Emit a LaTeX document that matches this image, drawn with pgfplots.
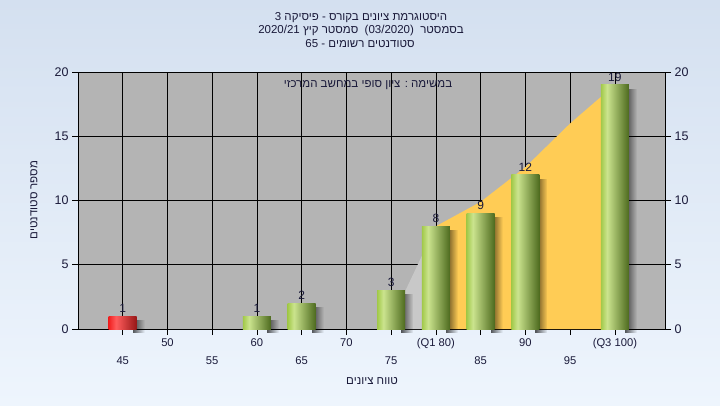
\documentclass[border=0pt]{standalone}
\usepackage{fontspec}
\setmainfont{Liberation Sans}
\newfontfamily\hebfont[Script=Hebrew]{Liberation Sans}
\usepackage{pgfplots}
\pgfplotsset{compat=1.18}
\usetikzlibrary{fadings}
\TeXXeTstate=1
\definecolor{bgtop}{HTML}{D4E0F0}
\definecolor{bgbot}{HTML}{EEF5FD}
\definecolor{plotbg}{HTML}{B4B4B4}
\definecolor{orng}{HTML}{FFCC55}
\definecolor{lgray}{HTML}{C8C8C8}
\definecolor{g1}{HTML}{A2C94A}
\definecolor{g2}{HTML}{CBE48E}
\definecolor{g3}{HTML}{4D6A1E}
\definecolor{r1}{HTML}{F02020}
\definecolor{r2}{HTML}{FF5C5C}
\definecolor{r3}{HTML}{961616}
\definecolor{lbl}{HTML}{1A1A3A}
\pgfdeclarehorizontalshading{greenbar}{100bp}{color(0bp)=(g1); color(25bp)=(g1); color(36bp)=(g2); color(75bp)=(g3); color(100bp)=(g3)}
\pgfdeclarehorizontalshading{redbar}{100bp}{color(0bp)=(r1); color(25bp)=(r1); color(38bp)=(r2); color(75bp)=(r3); color(100bp)=(r3)}
\pgfplotsset{
  gbar/.style={ybar, bar width=28pt, bar shift=0pt, shading=greenbar, draw=none,
    nodes near coords, every node near coord/.append style={font=\fontsize{12}{14}\selectfont, text=lbl}},
  rbar/.style={ybar, bar width=28pt, bar shift=0pt, shading=redbar, draw=none,
    nodes near coords, every node near coord/.append style={font=\fontsize{12}{14}\selectfont, text=lbl}},
  sbar/.style={ybar, bar width=12pt, bar shift=16pt, yshift=-4pt, fill=black, fill opacity=0.65, draw=none, path fading=east},
}
\begin{document}
\begin{tikzpicture}[x=1pt,y=1pt]
\shade[top color=bgtop, bottom color=bgbot] (0,0) rectangle (720,-405);
\useasboundingbox (0,0) rectangle (720,-405);
\node[font=\hebfont\fontsize{11.5}{13}\selectfont, text=lbl] at (361,-18) {\beginR היסטוגרמת ציונים בקורס - פיסיקה 3\endR};
\node[font=\hebfont\fontsize{11.5}{13}\selectfont, text=lbl] at (361,-31) {\beginR בסמסטר \ \beginL(03/2020)\endL\ \ סמסטר קיץ \beginL2020/21\endL\endR};
\node[font=\hebfont\fontsize{11.5}{13}\selectfont, text=lbl] at (360,-44) {\beginR סטודנטים רשומים - 65\endR};
\begin{axis}[
  at={(78pt,-329pt)}, anchor=south west,
  scale only axis, width=587pt, height=257pt,
  xmin=40, xmax=105.6, ymin=0, ymax=20,
  axis background/.style={fill=plotbg},
  xtick={50,60,70,80,90,100},
  xticklabels={50,60,70,(Q1 80),90,(Q3 100)},
  extra x ticks={45,55,65,75,85,95},
  extra x tick labels={45,55,65,75,85,95},
  extra x tick style={grid=major, xticklabel style={yshift=-18pt}},
  ytick={0,5,10,15,20},
  grid=major, major grid style={black, line width=0.8pt},
  tick style={black, line width=0.8pt},
  tick align=outside, major tick length=6pt,
  xtick pos=bottom, ytick pos=left,
  axis line style={black, line width=0.8pt},
  xticklabel style={font=\fontsize{11.2}{13}\selectfont, text=lbl},
  yticklabel style={font=\fontsize{12.5}{14}\selectfont, text=lbl},
  /pgf/number format/assume math mode=true,
  clip mode=individual,
]
\addplot[fill=orng, draw=none] coordinates {(80,8) (85,9.9) (90,12.6) (95,16) (100,19)} \closedcycle;
\addplot[fill=lgray, draw=none] coordinates {(75,3) (76.6,3) (80,8)} \closedcycle;
% shadows
\addplot[sbar] coordinates {(45,1)};
\addplot[sbar] coordinates {(60,1)};
\addplot[sbar] coordinates {(65,2)};
\addplot[sbar] coordinates {(75,3)};
\addplot[sbar] coordinates {(80,8)};
\addplot[sbar] coordinates {(85,9)};
\addplot[sbar] coordinates {(90,12)};
\addplot[sbar] coordinates {(100,19)};
% bars
\addplot[rbar] coordinates {(45,1)};
\addplot[gbar] coordinates {(60,1)};
\addplot[gbar] coordinates {(65,2)};
\addplot[gbar] coordinates {(75,3)};
\addplot[gbar] coordinates {(80,8)};
\addplot[gbar] coordinates {(85,9)};
\addplot[gbar] coordinates {(90,12)};
\addplot[gbar] coordinates {(100,19)};
\node[font=\hebfont\fontsize{11.5}{13}\selectfont, text=lbl] at (rel axis cs:0.494,0.949) {\beginR במשימה : ציון סופי במחשב המרכזי\endR};
\end{axis}
\begin{axis}[
  at={(78pt,-329pt)}, anchor=south west,
  scale only axis, width=587pt, height=257pt,
  xmin=40, xmax=105.6, ymin=0, ymax=20,
  hide x axis, axis y line*=right,
  ytick={0,5,10,15,20},
  tick style={black, line width=0.8pt},
  tick align=outside, major tick length=6pt,
  axis line style={black, line width=0.8pt},
  yticklabel style={font=\fontsize{12.5}{14}\selectfont, text=lbl},
  /pgf/number format/assume math mode=true,
]
\end{axis}
\node[font=\hebfont\fontsize{11.5}{13}\selectfont, text=lbl] at (372,-381) {\beginR טווח ציונים\endR};
\node[font=\hebfont\fontsize{11.5}{13}\selectfont, text=lbl, rotate=90] at (34,-200) {\beginR מספר סטודנטים\endR};
\end{tikzpicture}
\end{document}
